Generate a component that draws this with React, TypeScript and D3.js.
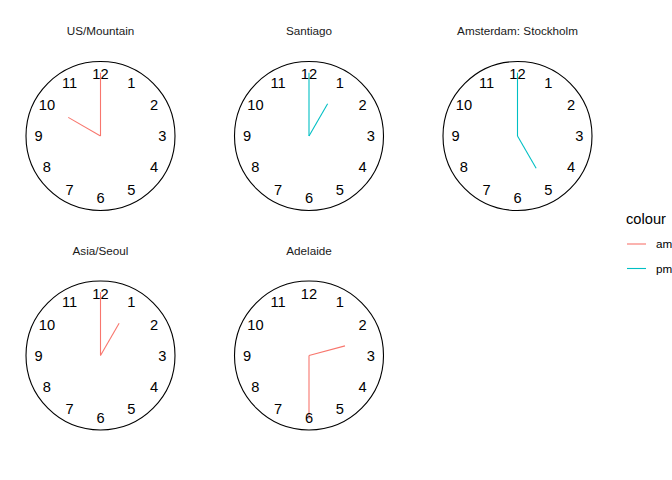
import React from "react";
import * as d3 from "d3";

// ── Data ──────────────────────────────────────────────────────
const CITIES = ["US/Mountain", "Santiago", "Amsterdam: Stockholm", "Asia/Seoul", "Adelaide"];
const HOURS = [10, 1, 5, 1, 2];
const MINUTES = [0, 0, 0, 0, 30];
const PERIOD = ["am", "pm", "pm", "am", "am"];
const DIAL = [1, 2, 3, 4, 5, 6, 7, 8, 9, 10, 11, 12];
const LEGEND = ["am", "pm"];

// ── Geometry ─────────────────────────────────────────────────
const W = 672;
const H = 480;
const R = 74.5;
const NCOL = 3;
const FONT = "'Liberation Sans', Arial, Helvetica, sans-serif";

const colScale = d3.scaleLinear().domain([0, 2]).range([100.5, 517.5]);
const rowScale = d3.scaleLinear().domain([0, 1]).range([136, 355.5]);
const color = d3.scaleOrdinal<string, string>().domain(LEGEND).range(["#F8766D", "#00BFC4"]);

function Clock({ i }: { i: number }) {
  const cx = colScale(i % NCOL);
  const cy = rowScale(Math.floor(i / NCOL));
  const x = d3.scaleLinear().domain([-1, 1]).range([cx - R, cx + R]);
  const y = d3.scaleLinear().domain([-1, 1]).range([cy + R, cy - R]);

  const hourAngle = (((HOURS[i] % 12) + MINUTES[i] / 60) / 12) * 2 * Math.PI;
  const minAngle = (MINUTES[i] / 60) * 2 * Math.PI;
  const c = color(PERIOD[i]);

  return (
    <g>
      <text x={cx} y={cy - 105} textAnchor="middle" dy="0.35em" fontSize={11.7} fill="#1a1a1a">
        {CITIES[i]}
      </text>
      <circle cx={x(0)} cy={y(0)} r={x(1) - x(0)} fill="white" stroke="black" strokeWidth={1.1} />
      {/* hands */}
      <line x1={x(0)} y1={y(0)} x2={x(0.5 * Math.sin(hourAngle))} y2={y(0.5 * Math.cos(hourAngle))}
        stroke={c} strokeWidth={1.1} />
      <line x1={x(0)} y1={y(0)} x2={x(0.85 * Math.sin(minAngle))} y2={y(0.85 * Math.cos(minAngle))}
        stroke={c} strokeWidth={1.1} />
      {/* dial numbers */}
      {DIAL.map((n) => {
        const a = (n / 12) * 2 * Math.PI;
        return (
          <text key={n} x={x(0.83 * Math.sin(a))} y={y(0.83 * Math.cos(a))} dy="0.36em"
            textAnchor="middle" fontSize={14.67} fill="black">
            {n}
          </text>
        );
      })}
    </g>
  );
}

export default function App() {
  return (
    <svg width={W} height={H} style={{ position: "absolute", left: 0, top: 0, background: "white" }}
      fontFamily={FONT}>
      <rect width={W} height={H} fill="white" />
      {CITIES.map((_, i) => <Clock key={i} i={i} />)}

      {/* Legend */}
      <text x={626} y={224} fontSize={14.67} fill="black">colour</text>
      {LEGEND.map((k, j) => (
        <g key={k}>
          <line x1={627} x2={646} y1={244 + j * 24.5} y2={244 + j * 24.5} stroke={color(k)} strokeWidth={1.1} />
          <text x={656} y={244 + j * 24.5} dy="0.35em" fontSize={11.7} fill="black">{k}</text>
        </g>
      ))}
    </svg>
  );
}
